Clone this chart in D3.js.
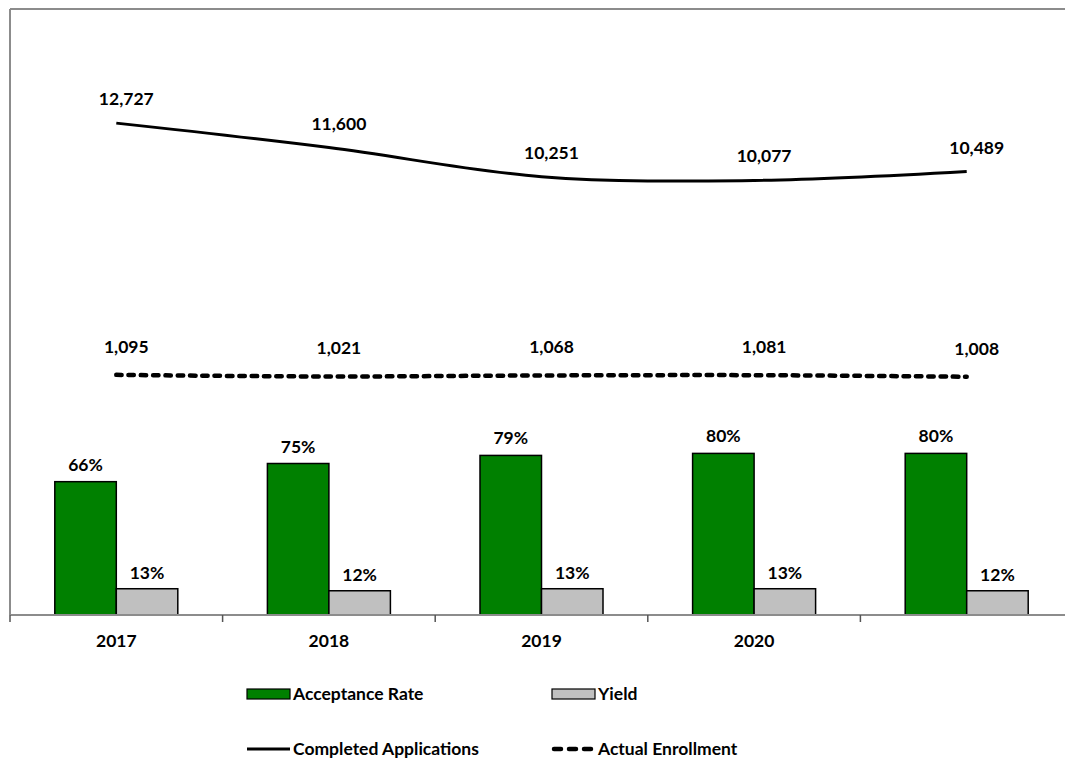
<!DOCTYPE html>
<html><head><meta charset="utf-8">
<script src="https://cdn.jsdelivr.net/npm/d3@7"></script>
<style>body{margin:0;background:#fff}svg{display:block}text{font-family:Lato,"Open Sans",sans-serif;font-weight:bold;fill:#000}</style>
</head><body><svg id="c" width="1065" height="758"></svg>
<script>
const categories = ["2017","2018","2019","2020","2021"];
const tickLabels = ["2017","2018","2019","2020",""];
const acceptanceRate = [0.66,0.75,0.79,0.80,0.80];
const yieldRate = [0.13,0.12,0.13,0.13,0.12];
const completedApplications = [12727,11600,10251,10077,10489];
const actualEnrollment = [1095,1021,1068,1081,1008];
const seriesNames = ["Acceptance Rate","Yield","Completed Applications","Actual Enrollment"];

const svg = d3.select("#c");
const FS = 17.5;
const L=10, T=9, B=615, R=10+5*212.6;
const x = d3.scaleBand().domain(categories).range([L,R]).paddingInner(0).paddingOuter(0);
const y1 = d3.scaleLinear().domain([0,3]).range([B,T]);
const y2 = d3.scaleLinear().domain([-10000,18000]).range([B,T]);
const bw = 61.5;
const cx = d => x(d)+x.bandwidth()/2;
const fmtP = d3.format(".0%"), fmtN = d3.format(",");

// border
svg.append("line").attr("x1",L).attr("x2",1065).attr("y1",T).attr("y2",T).attr("stroke","#8c8c8c").attr("stroke-width",2);
svg.append("line").attr("x1",L).attr("x2",L).attr("y1",T).attr("y2",B).attr("stroke","#8c8c8c").attr("stroke-width",2);

// bars
svg.selectAll(".ar").data(categories).enter().append("rect")
  .attr("x",d=>cx(d)-bw).attr("width",bw)
  .attr("y",(d,i)=>y1(acceptanceRate[i])).attr("height",(d,i)=>B-y1(acceptanceRate[i]))
  .attr("fill","#008000").attr("stroke","#000").attr("stroke-width",1.5);
svg.selectAll(".yr").data(categories).enter().append("rect")
  .attr("x",d=>cx(d)).attr("width",bw)
  .attr("y",(d,i)=>y1(yieldRate[i])).attr("height",(d,i)=>B-y1(yieldRate[i]))
  .attr("fill","#c0c0c0").attr("stroke","#000").attr("stroke-width",1.5);

// axis
const ax = svg.append("g").attr("transform",`translate(0,${B})`)
  .call(d3.axisBottom(x).tickSize(0).tickFormat((d,i)=>tickLabels[i]));
ax.select(".domain").attr("stroke","#8c8c8c").attr("stroke-width",2).attr("d",`M${L},0H1065`);
ax.selectAll("text").attr("font-size",FS).attr("dy","0").attr("y",32).style("font-family","Lato").style("font-weight","bold").attr("fill","#000");
svg.selectAll(".tk").data(categories).enter().append("line")
  .attr("x1",d=>x(d)).attr("x2",d=>x(d)).attr("y1",B).attr("y2",B+7)
  .attr("stroke","#555").attr("stroke-width",1.5);

// bar labels
svg.selectAll(".arl").data(categories).enter().append("text")
  .attr("x",d=>cx(d)-bw/2).attr("y",(d,i)=>y1(acceptanceRate[i])-11)
  .attr("text-anchor","middle").attr("font-size",FS).text((d,i)=>fmtP(acceptanceRate[i]));
svg.selectAll(".yrl").data(categories).enter().append("text")
  .attr("x",d=>cx(d)+bw/2).attr("y",(d,i)=>y1(yieldRate[i])-10)
  .attr("text-anchor","middle").attr("font-size",FS).text((d,i)=>fmtP(yieldRate[i]));

// lines
const lineApp = d3.line().x((d,i)=>cx(categories[i])).y(d=>y2(d)).curve(d3.curveCardinal.tension(0));
svg.append("path").attr("d",lineApp(completedApplications)).attr("fill","none").attr("stroke","#000").attr("stroke-width",3);
const lineEn = d3.line().x((d,i)=>cx(categories[i])).y(d=>y2(d)).curve(d3.curveCardinal.tension(0));
svg.append("path").attr("d",lineEn(actualEnrollment)).attr("fill","none").attr("stroke","#000").attr("stroke-width",4.5)
  .attr("stroke-dasharray","5.5,6.8").attr("stroke-linecap","round");

svg.selectAll(".cal").data(categories).enter().append("text")
  .attr("x",d=>cx(d)+10).attr("y",(d,i)=>y2(completedApplications[i])-18)
  .attr("text-anchor","middle").attr("font-size",FS).text((d,i)=>fmtN(completedApplications[i]));
svg.selectAll(".ael").data(categories).enter().append("text")
  .attr("x",d=>cx(d)+10).attr("y",(d,i)=>y2(actualEnrollment[i])-22)
  .attr("text-anchor","middle").attr("font-size",FS).text((d,i)=>fmtN(actualEnrollment[i]));

// legend
const lg = svg.append("g");
const lx = [247,552,247,552], ly=[694,694,749,749];
seriesNames.forEach((n,i)=>{
  if(i<2){
    lg.append("rect").attr("x",lx[i]).attr("y",ly[i]-5).attr("width",43).attr("height",10)
      .attr("fill",i===0?"#008000":"#c0c0c0").attr("stroke","#000").attr("stroke-width",1.2);
  } else if(i===2){
    lg.append("line").attr("x1",lx[i]).attr("x2",lx[i]+43).attr("y1",ly[i]).attr("y2",ly[i]).attr("stroke","#000").attr("stroke-width",3);
  } else {
    lg.append("line").attr("x1",lx[i]+2).attr("x2",lx[i]+43).attr("y1",ly[i]).attr("y2",ly[i]).attr("stroke","#000").attr("stroke-width",4.5)
      .attr("stroke-dasharray","7,8").attr("stroke-linecap","round");
  }
  lg.append("text").attr("x",lx[i]+46).attr("y",ly[i]).attr("dy","0.35em").attr("font-size",FS).text(n);
});
</script></body></html>
